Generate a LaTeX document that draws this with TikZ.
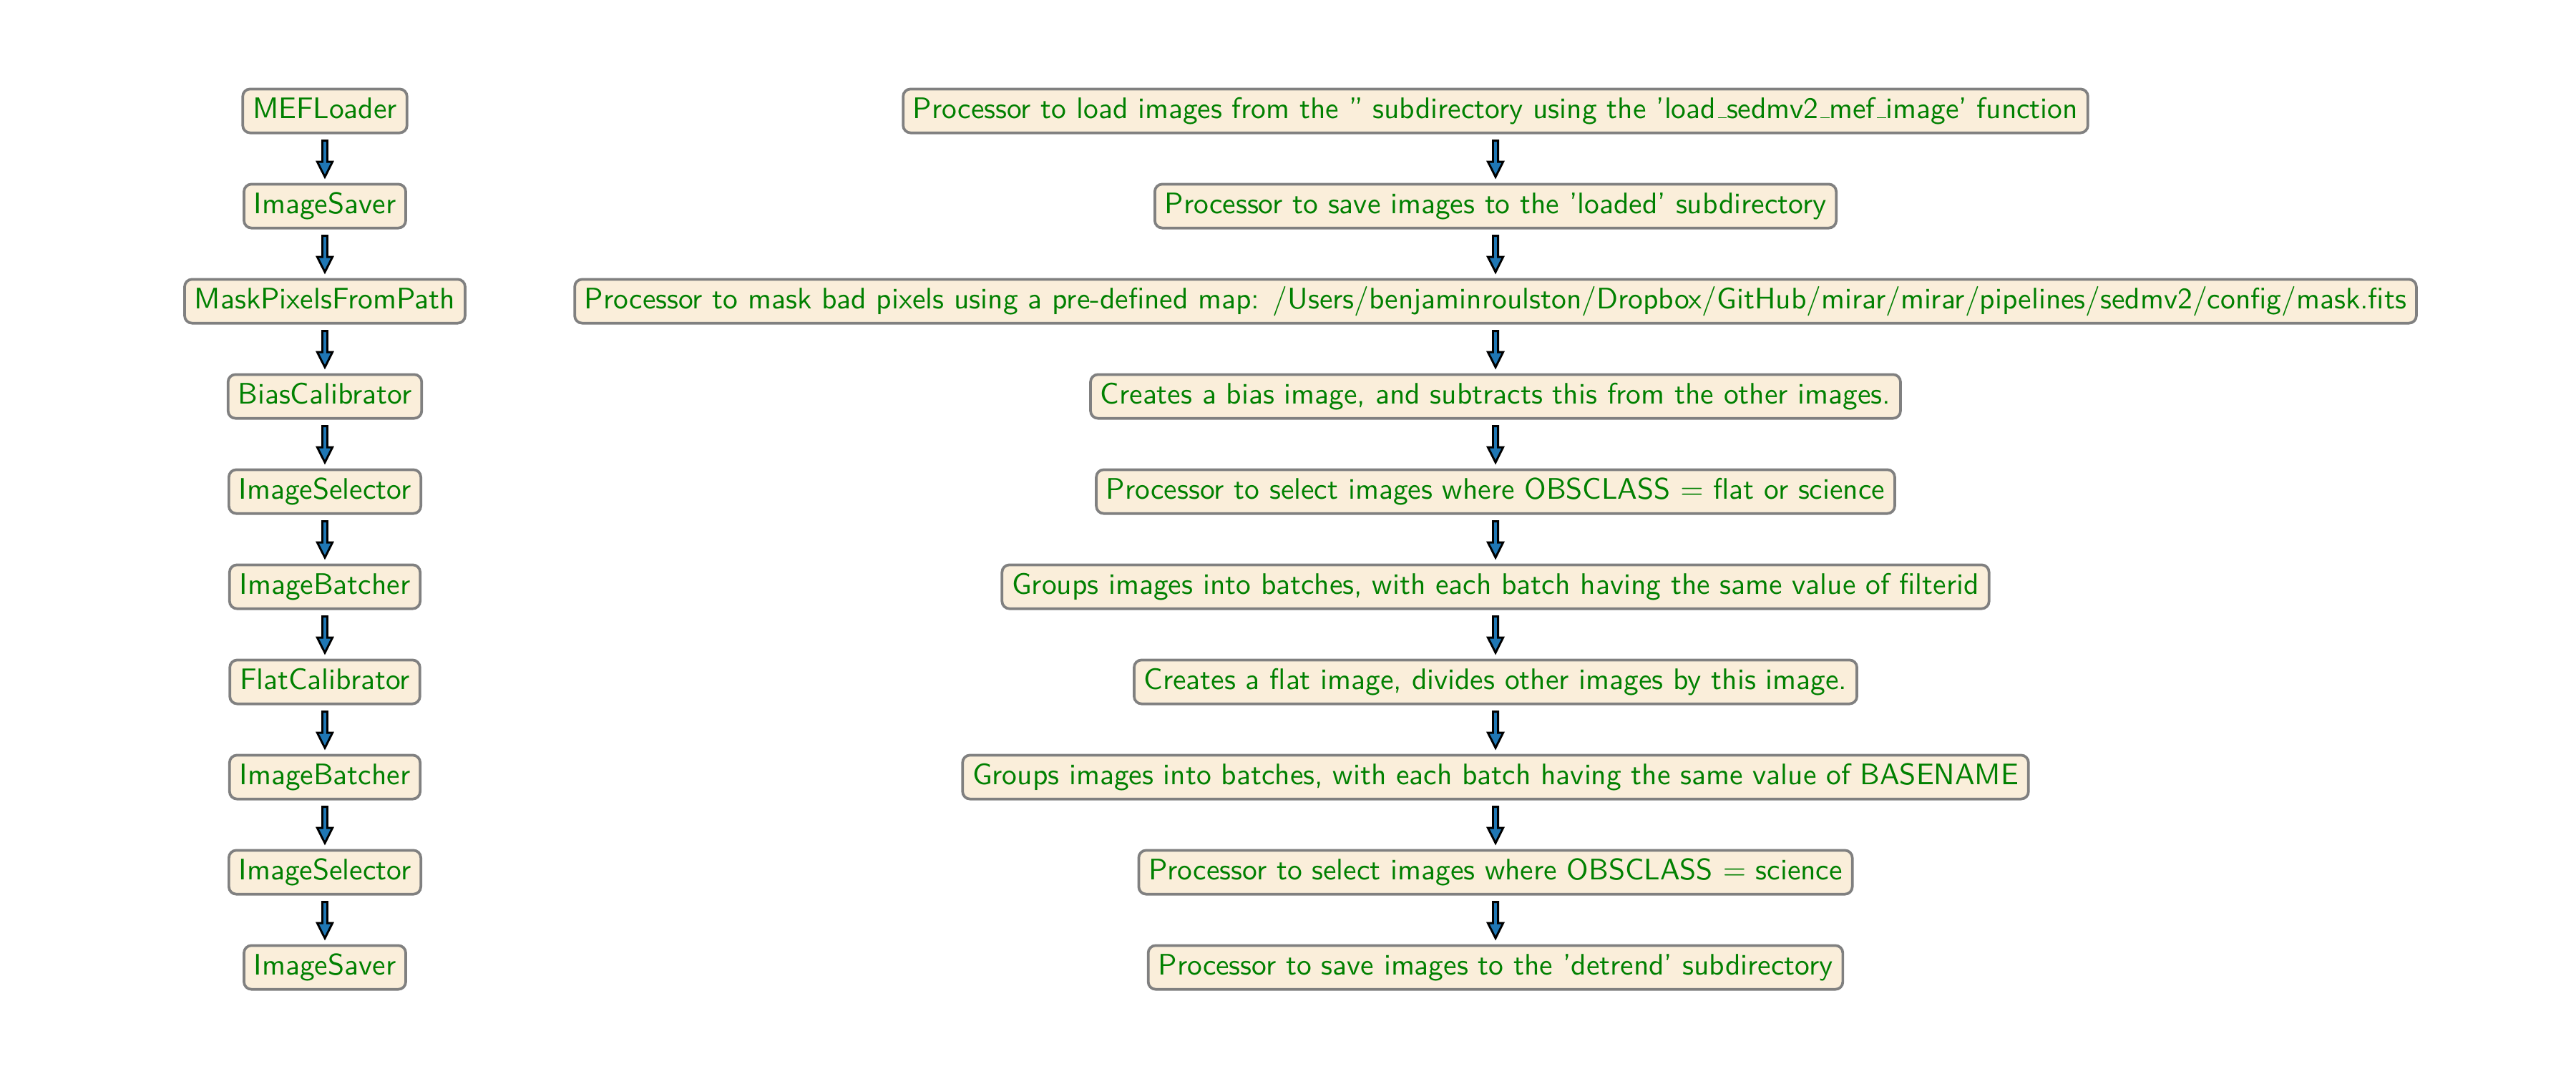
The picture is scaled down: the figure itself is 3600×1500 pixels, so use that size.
\documentclass[tikz,border=0pt]{standalone}
\usetikzlibrary{calc}
\definecolor{boxfill}{RGB}{250,238,218}
\definecolor{boxdraw}{RGB}{128,128,128}
\definecolor{txtgreen}{RGB}{0,128,0}
\definecolor{arrowblue}{RGB}{31,119,180}
\newcommand\usc{\leavevmode\kern.06em\vbox{\hrule width.3em}}
\tikzset{
  stage/.style={draw=boxdraw, fill=boxfill, line width=0.9pt, rounded corners=2.5pt,
    text=txtgreen, font=\sffamily, inner sep=3.33pt, text height=6.5pt, text depth=1.6pt},
  fatarrow/.style={draw=black, fill=arrowblue, line width=0.7pt, line join=miter,
    to path={let \p1=(\tikztostart), \p2=(\tikztotarget) in
      (\x1-0.85pt,\y1-2.2pt) -- (\x1-0.85pt,\y2+7.1pt) -- (\x1-2.56pt,\y2+7.1pt) --
      (\x1,\y2+2pt) -- (\x1+2.56pt,\y2+7.1pt) -- (\x1+0.85pt,\y2+7.1pt) --
      (\x1+0.85pt,\y1-2.2pt) -- cycle}}
}
\begin{document}
\begin{tikzpicture}[x=0.241pt, y=-0.241pt]
\useasboundingbox (0,0) rectangle (3600,1500);
\node[stage] (l1) at (454,155) {MEFLoader};
\node[stage] (l2) at (454,288) {ImageSaver};
\node[stage] (l3) at (454,421) {MaskPixelsFromPath};
\node[stage] (l4) at (454,554) {BiasCalibrator};
\node[stage] (l5) at (454,687) {ImageSelector};
\node[stage] (l6) at (454,820) {ImageBatcher};
\node[stage] (l7) at (454,953) {FlatCalibrator};
\node[stage] (l8) at (454,1086) {ImageBatcher};
\node[stage] (l9) at (454,1219) {ImageSelector};
\node[stage] (l10) at (454,1352) {ImageSaver};
\node[stage] (r1) at (2090,155) {Processor to load images from the '' subdirectory using the 'load\usc sedmv2\usc mef\usc image' function};
\node[stage] (r2) at (2090,288) {Processor to save images to the 'loaded' subdirectory};
\node[stage] (r3) at (2090,421) {Processor to mask bad pixels using a pre-defined map: /Users/benjaminroulston/Dropbox/GitHub/mirar/mirar/pipelines/sedmv2/config/mask.fits};
\node[stage] (r4) at (2090,554) {Creates a bias image, and subtracts this from the other images.};
\node[stage] (r5) at (2090,687) {Processor to select images where OBSCLASS $=$ flat or science};
\node[stage] (r6) at (2090,820) {Groups images into batches, with each batch having the same value of filterid};
\node[stage] (r7) at (2090,953) {Creates a flat image, divides other images by this image.};
\node[stage] (r8) at (2090,1086) {Groups images into batches, with each batch having the same value of BASENAME};
\node[stage] (r9) at (2090,1219) {Processor to select images where OBSCLASS $=$ science};
\node[stage] (r10) at (2090,1352) {Processor to save images to the 'detrend' subdirectory};
\foreach \a/\b in {1/2,2/3,3/4,4/5,5/6,6/7,7/8,8/9,9/10}{
  \draw[fatarrow] (l\a.south) to (l\b.north);
  \draw[fatarrow] (r\a.south) to (r\b.north);
}
\end{tikzpicture}
\end{document}
